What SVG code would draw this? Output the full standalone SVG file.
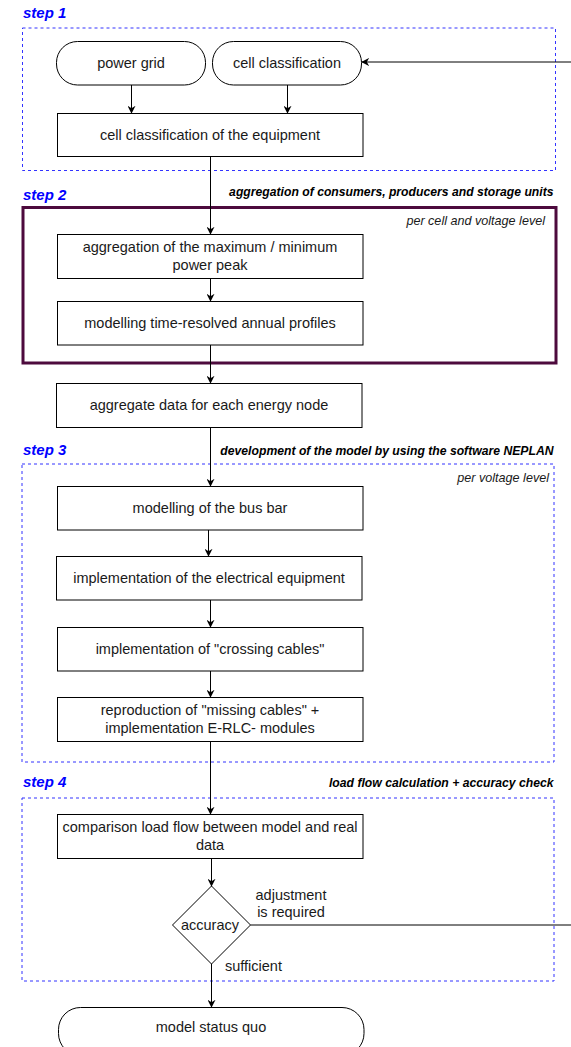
<svg xmlns="http://www.w3.org/2000/svg" width="571" height="1047" viewBox="0 0 571 1047">
  <style>
    .box { fill: #ffffff; stroke: #000000; stroke-width: 1; }
    .grp { fill: none; stroke: #3333ff; stroke-width: 1; stroke-dasharray: 3 3; }
    .t { font-family: "Liberation Sans", Arial, sans-serif; font-size: 14.5px; fill: #1a1a1a; text-anchor: middle; }
    .step { font-family: "Liberation Sans", Arial, sans-serif; font-size: 15px; font-weight: bold; font-style: italic; fill: #0000ff; }
    .head { font-family: "Liberation Sans", Arial, sans-serif; font-size: 12.2px; font-weight: bold; font-style: italic; fill: #000000; text-anchor: end; }
    .note { font-family: "Liberation Sans", Arial, sans-serif; font-size: 12.6px; font-style: italic; fill: #1a1a1a; text-anchor: end; }
    .edge { fill: none; stroke: #000000; stroke-width: 1; marker-end: url(#arrow); }
  </style>
  <defs>
    <marker id="arrow" viewBox="0 0 10 10" refX="9" refY="5" markerWidth="8" markerHeight="8" markerUnits="userSpaceOnUse" orient="auto">
      <path d="M0,0 L10,5 L0,10 L3,5 Z" fill="#000000"/>
    </marker>
  </defs>
  <rect width="571" height="1047" fill="#ffffff"/>

  <!-- step containers -->
  <g id="step1">
    <text class="step" x="23" y="18">step 1</text>
    <rect class="grp" x="22.5" y="28" width="533" height="142.5"/>
  </g>
  <g id="step2">
    <text class="step" x="23" y="200">step 2</text>
    <text class="head" x="553.5" y="196">aggregation of consumers, producers and storage units</text>
    <rect x="23" y="207.5" width="533" height="155.5" fill="none" stroke="#4d0a3d" stroke-width="3"/>
    <text class="note" x="545" y="225">per cell and voltage level</text>
  </g>
  <g id="step3">
    <text class="step" x="23" y="455">step 3</text>
    <text class="head" x="553.5" y="455">development of the model by using the software NEPLAN</text>
    <rect class="grp" x="22" y="464" width="532" height="298"/>
    <text class="note" x="549" y="482">per voltage level</text>
  </g>
  <g id="step4">
    <text class="step" x="23" y="787">step 4</text>
    <text class="head" x="553.5" y="787">load flow calculation + accuracy check</text>
    <rect class="grp" x="22" y="798" width="532" height="183"/>
  </g>

  <!-- nodes -->
  <g id="power-grid">
    <rect class="box" x="56.5" y="41.5" width="149" height="43.5" rx="21" ry="21"/>
    <text class="t" x="131" y="67.5">power grid</text>
  </g>
  <g id="cell-classification">
    <rect class="box" x="212.5" y="41.5" width="149" height="43.5" rx="21" ry="21"/>
    <text class="t" x="287" y="67.5">cell classification</text>
  </g>
  <g id="cell-classification-equipment">
    <rect class="box" x="57.5" y="113.5" width="305.5" height="43"/>
    <text class="t" x="210" y="139.5">cell classification of the equipment</text>
  </g>
  <g id="aggregation-peak">
    <rect class="box" x="57.5" y="234.5" width="305.5" height="44"/>
    <text class="t" x="210" y="251.5">aggregation of the maximum / minimum</text>
    <text class="t" x="210" y="269.5">power peak</text>
  </g>
  <g id="annual-profiles">
    <rect class="box" x="57.5" y="301.5" width="305.5" height="43.5"/>
    <text class="t" x="210" y="328">modelling time-resolved annual profiles</text>
  </g>
  <g id="energy-node-data">
    <rect class="box" x="56.5" y="383.5" width="305.5" height="44"/>
    <text class="t" x="209" y="410">aggregate data for each energy node</text>
  </g>
  <g id="bus-bar">
    <rect class="box" x="57.5" y="486.5" width="305.5" height="43.5"/>
    <text class="t" x="210" y="512.5">modelling of the bus bar</text>
  </g>
  <g id="electrical-equipment">
    <rect class="box" x="56.5" y="556.5" width="305.5" height="43.5"/>
    <text class="t" x="209" y="582.5">implementation of the electrical equipment</text>
  </g>
  <g id="crossing-cables">
    <rect class="box" x="57.5" y="627.5" width="305.5" height="43.5"/>
    <text class="t" x="210" y="653.5">implementation of "crossing cables"</text>
  </g>
  <g id="missing-cables">
    <rect class="box" x="57.5" y="697.5" width="305.5" height="44"/>
    <text class="t" x="210" y="714.5">reproduction of "missing cables" +</text>
    <text class="t" x="210" y="732.5">implementation E-RLC- modules</text>
  </g>
  <g id="load-flow-comparison">
    <rect class="box" x="57.5" y="814.5" width="305.5" height="44"/>
    <text class="t" x="210" y="831.5">comparison load flow between model and real</text>
    <text class="t" x="210" y="849.5">data</text>
  </g>
  <g id="accuracy">
    <path class="box" d="M211.5,886 L250.5,925 L211.5,964 L172.5,925 Z"/>
    <text class="t" x="210" y="929.5">accuracy</text>
  </g>
  <g id="model-status-quo">
    <rect class="box" x="58.5" y="1007.5" width="305.5" height="48" rx="22" ry="22"/>
    <text class="t" x="211" y="1032">model status quo</text>
  </g>

  <!-- connectors -->
  <g id="connectors">
    <path class="edge" d="M131.5,85 L131.5,113"/>
    <path class="edge" d="M287.5,85 L287.5,113"/>
    <path class="edge" d="M575,62 L362,62"/>
    <path class="edge" d="M210.5,156.5 L210.5,234"/>
    <path class="edge" d="M210.5,278.5 L210.5,301"/>
    <path class="edge" d="M210.5,345 L210.5,383"/>
    <path class="edge" d="M210.5,427.5 L210.5,486"/>
    <path class="edge" d="M208.5,530 L208.5,556"/>
    <path class="edge" d="M210.5,600 L210.5,627"/>
    <path class="edge" d="M210.5,671 L210.5,697"/>
    <path class="edge" d="M210.5,741.5 L210.5,814"/>
    <path class="edge" d="M211.5,858.5 L211.5,886"/>
    <path class="edge" d="M211.5,964 L211.5,1007"/>
    <path d="M250.5,925 L575,925" fill="none" stroke="#000000" stroke-width="1"/>
    <text class="t" x="291" y="900">adjustment</text>
    <text class="t" x="291" y="917">is required</text>
    <text class="t" x="225" y="971" style="text-anchor:start">sufficient</text>
  </g>
</svg>
